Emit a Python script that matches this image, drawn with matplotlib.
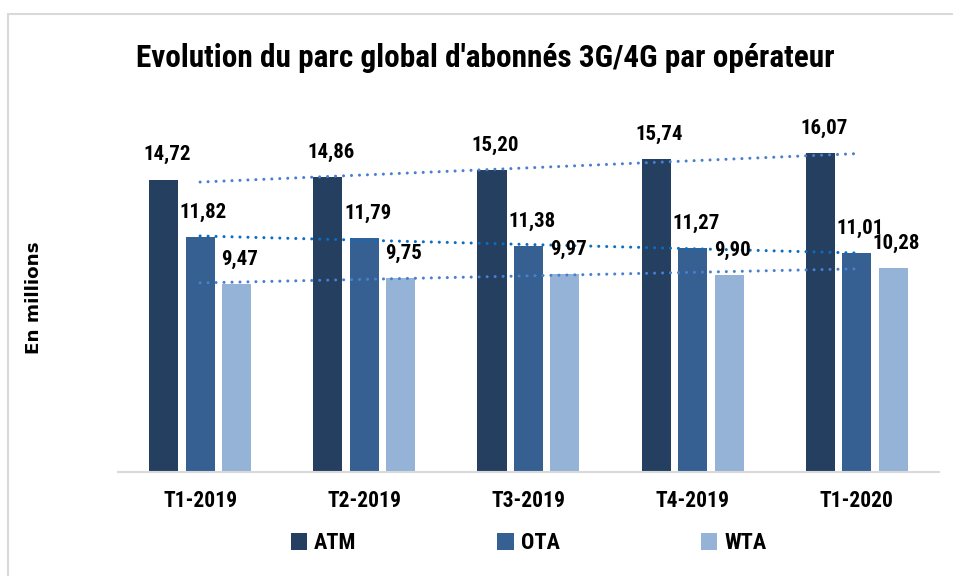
import numpy as np
import matplotlib.pyplot as plt
from matplotlib.patches import Rectangle
from matplotlib.font_manager import FontProperties

CATEGORIES = ['T1-2019', 'T2-2019', 'T3-2019', 'T4-2019', 'T1-2020']
OPERATORS = ['ATM', 'OTA', 'WTA']
ATM = [14.72, 14.86, 15.20, 15.74, 16.07]
OTA = [11.82, 11.79, 11.38, 11.27, 11.01]
WTA = [9.47, 9.75, 9.97, 9.90, 10.28]

BAR_COLORS = ['#243F60', '#366092', '#95B3D7']
TREND_COLORS = ['#4A7FCF', '#0A6DC2', '#4A7FCF']

plt.rcParams['font.family'] = ['Roboto Condensed', 'Liberation Sans', 'DejaVu Sans']
plt.rcParams['font.weight'] = 'bold'

fig = plt.figure(figsize=(9.54, 5.76), dpi=100)
ax = fig.add_axes([0.1237, 0.181, 0.8605, 0.62])

# light frame around the chart
fig.patches.append(Rectangle((8 / 954, -0.1), 1.2, 1 - 14 / 576 + 0.1,
                             transform=fig.transFigure, fill=False,
                             edgecolor='#d9d9d9', linewidth=1.5))

x = np.arange(len(CATEGORIES))
width = 0.177
step = 0.222

for i, (name, vals) in enumerate(zip(OPERATORS, [ATM, OTA, WTA])):
    pos = x + (i - 1) * step
    bars = ax.bar(pos, vals, width, color=BAR_COLORS[i], label=name, zorder=2)
    for b, v in zip(bars, vals):
        ax.annotate(f'{v:.2f}'.replace('.', ','),
                    (b.get_x() + b.get_width() / 2 + 0.02, b.get_height()),
                    xytext=(0, 11), textcoords='offset points',
                    ha='center', va='bottom', fontsize=15, fontweight='bold')
    # linear trend line
    coef = np.polyfit(x, vals, 1)
    ax.plot(x, np.polyval(coef, x), color=TREND_COLORS[i], linewidth=2.2,
            linestyle=(0, (0.01, 2.6)), dash_capstyle='round', zorder=3)

ax.set_xlim(-0.5, len(CATEGORIES) - 0.5)
ax.set_ylim(0, 18)
ax.set_xticks(x)
ax.set_xticklabels(CATEGORIES, fontsize=15.5, fontweight='bold')
ax.tick_params(axis='x', length=0, pad=13)
ax.set_yticks([])
for s in ['top', 'right', 'left']:
    ax.spines[s].set_visible(False)
ax.spines['bottom'].set_color('#d9d9d9')
ax.spines['bottom'].set_linewidth(1.5)

ylab_font = FontProperties(family='DejaVu Sans', weight='bold', size=13.2)
fig.text(0.036, 0.483, 'En millions', rotation=90, ha='center', va='center',
         fontproperties=ylab_font)
fig.text(0.509, 0.90, "Evolution du parc global d'abonnés 3G/4G par opérateur",
         ha='center', va='center', fontsize=22.5, fontweight='bold')

ax.legend(loc='center', bbox_to_anchor=(0.5, -0.20), ncol=3, frameon=False,
          fontsize=16, handlelength=0.75, handleheight=0.75,
          handletextpad=0.3, columnspacing=6.35)

fig.savefig('out.png', dpi=100)
